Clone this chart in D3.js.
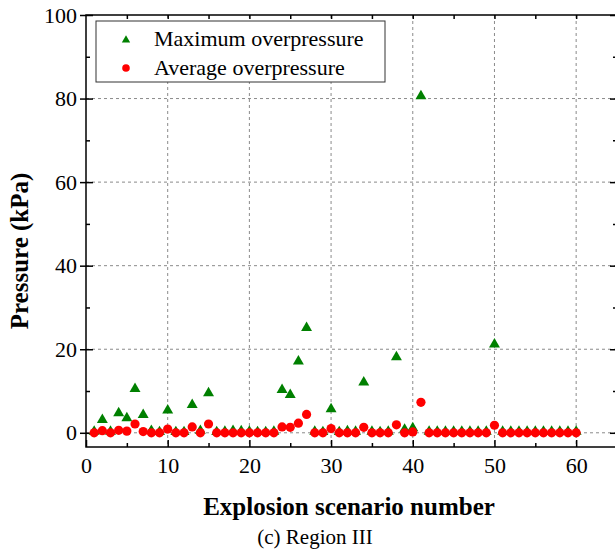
<!DOCTYPE html>
<html>
<head>
<meta charset="utf-8">
<script src="https://cdn.jsdelivr.net/npm/d3@7"></script>
<style>
  body { margin: 0; background: #fff; }
  svg { display: block; font-family: "Liberation Serif", "Times New Roman", serif; }
  svg text { font-family: "Liberation Serif", "Times New Roman", serif; }
  .grid line { stroke: #8a8a8a; stroke-dasharray: 3,3; stroke-width: 1; }
</style>
</head>
<body>
<div id="chart"></div>
<script>
// scenario numbers 1..60
const scenarios = [1,2,3,4,5,6,7,8,9,10,11,12,13,14,15,16,17,18,19,20,
                   21,22,23,24,25,26,27,28,29,30,31,32,33,34,35,36,37,38,39,40,
                   41,42,43,44,45,46,47,48,49,50,51,52,53,54,55,56,57,58,59,60];

// Maximum overpressure (kPa)
const maxPressure = [0.3,3.1,0.3,4.7,3.5,10.5,4.3,0.5,0.2,5.4,
                     0.2,0.2,6.7,0.5,9.5,0.2,0.3,0.5,0.4,0.3,
                     0.2,0.2,0.3,10.3,9.1,17.1,25.1,0.3,0.2,5.7,
                     0.2,0.4,0.3,12.1,0.3,0.2,0.3,18.1,0.8,1.1,
                     80.6,0.3,0.3,0.3,0.3,0.3,0.3,0.3,0.3,21.2,
                     0.3,0.3,0.3,0.3,0.3,0.3,0.3,0.3,0.3,0.3];

// Average overpressure (kPa)
const avgPressure = [0,0.5,0,0.6,0.4,2.1,0.3,0,0,0.9,
                     0,0,1.4,0,2.1,0,0,0,0,0,
                     0,0,0,1.4,1.3,2.3,4.4,0,0,1.0,
                     0,0,0,1.3,0,0,0,1.9,0,0.2,
                     7.3,0,0,0,0,0,0,0,0,1.8,
                     0,0,0,0,0,0,0,0,0,0];

const xTicks = [0,10,20,30,40,50,60];
const yTicks = [0,20,40,60,80,100];
const seriesNames = ["Maximum overpressure", "Average overpressure"];

const W = 615, H = 552;
const pLeft = 86, pRight = 617, pTop = 15, pBottom = 447;

const svg = d3.select("#chart").append("svg")
    .attr("width", W).attr("height", H);

const x = d3.scaleLinear().domain([0, 65]).range([pLeft, pRight]);
const y = d3.scaleLinear().domain([-3.4, 100]).range([pBottom, pTop]);

// grid
svg.append("g").attr("class", "grid")
   .selectAll("line").data(xTicks.slice(1))
   .join("line")
   .attr("x1", d => x(d)).attr("x2", d => x(d))
   .attr("y1", pTop).attr("y2", pBottom);
svg.append("g").attr("class", "grid")
   .selectAll("line").data(yTicks.slice(0, -1))
   .join("line")
   .attr("x1", pLeft).attr("x2", pRight)
   .attr("y1", d => y(d)).attr("y2", d => y(d));

// frame
svg.append("rect")
   .attr("x", pLeft).attr("y", pTop)
   .attr("width", pRight - pLeft).attr("height", pBottom - pTop)
   .attr("fill", "none").attr("stroke", "#000").attr("stroke-width", 1.5);

const tickStyle = g => {
    g.attr("font-family", "Liberation Serif, Times New Roman, serif").attr("font-size", 22);
    g.select(".domain").remove();
    g.selectAll("line").attr("stroke", "#000").attr("stroke-width", 1.5);
    g.selectAll("text").attr("fill", "#000");
};

// bottom axis (ticks inside)
svg.append("g")
   .attr("transform", `translate(0,${pBottom})`)
   .call(d3.axisBottom(x).tickValues(xTicks).tickSize(-7).tickPadding(10))
   .call(tickStyle);
svg.append("g")
   .attr("transform", `translate(0,${pBottom})`)
   .call(d3.axisBottom(x).tickValues([5,15,25,35,45,55]).tickSize(-4).tickFormat(""))
   .call(tickStyle);

// top axis ticks
svg.append("g")
   .attr("transform", `translate(0,${pTop})`)
   .call(d3.axisTop(x).tickValues(d3.range(5, 65, 5)).tickSize(-4).tickFormat(""))
   .call(tickStyle);

// left axis (major in & out)
svg.append("g")
   .attr("transform", `translate(${pLeft},0)`)
   .call(d3.axisLeft(y).tickValues(yTicks).tickSize(6).tickPadding(3))
   .call(tickStyle);
svg.append("g")
   .attr("transform", `translate(${pLeft},0)`)
   .call(d3.axisLeft(y).tickValues(yTicks).tickSize(-7).tickFormat(""))
   .call(tickStyle);
svg.append("g")
   .attr("transform", `translate(${pLeft},0)`)
   .call(d3.axisLeft(y).tickValues([10,30,50,70,90]).tickSize(-4).tickFormat(""))
   .call(tickStyle);

// right axis ticks
svg.append("g")
   .attr("transform", `translate(${pRight},0)`)
   .call(d3.axisRight(y).tickValues(yTicks).tickSize(-7).tickFormat(""))
   .call(tickStyle);
svg.append("g")
   .attr("transform", `translate(${pRight},0)`)
   .call(d3.axisRight(y).tickValues([10,30,50,70,90]).tickSize(-4).tickFormat(""))
   .call(tickStyle);

// points
const tri = d3.symbol().type(d3.symbolTriangle).size(52);
svg.append("g")
   .selectAll("path")
   .data(scenarios)
   .join("path")
   .attr("d", tri)
   .attr("transform", (d, i) => `translate(${x(d)},${y(maxPressure[i])})`)
   .attr("fill", "#008000");

svg.append("g")
   .selectAll("circle")
   .data(scenarios)
   .join("circle")
   .attr("cx", d => x(d))
   .attr("cy", (d, i) => y(avgPressure[i]))
   .attr("r", 4.6)
   .attr("fill", "#ff0000");

// legend
const legend = svg.append("g");
legend.append("rect")
      .attr("x", 96).attr("y", 21).attr("width", 289).attr("height", 61)
      .attr("fill", "#fff").attr("stroke", "#333").attr("stroke-width", 1);
legend.append("path")
      .attr("d", d3.symbol().type(d3.symbolTriangle).size(30))
      .attr("transform", "translate(126,40)")
      .attr("fill", "#008000");
legend.append("circle")
      .attr("cx", 126).attr("cy", 68).attr("r", 3.8)
      .attr("fill", "#ff0000");
legend.selectAll("text")
      .data(seriesNames)
      .join("text")
      .attr("x", 154)
      .attr("y", (d, i) => i === 0 ? 46 : 75)
      .attr("font-size", 22)
      .text(d => d);

// axis titles
svg.append("text")
   .attr("x", (pLeft + 612) / 2).attr("y", 515)
   .attr("text-anchor", "middle")
   .attr("font-size", 25).attr("font-weight", "bold")
   .text("Explosion scenario number");

svg.append("text")
   .attr("transform", "translate(28,251) rotate(-90)")
   .attr("text-anchor", "middle")
   .attr("font-size", 25).attr("font-weight", "bold")
   .text("Pressure (kPa)");

svg.append("text")
   .attr("x", 315).attr("y", 544)
   .attr("text-anchor", "middle")
   .attr("font-size", 21)
   .text("(c) Region III");
</script>
</body>
</html>
